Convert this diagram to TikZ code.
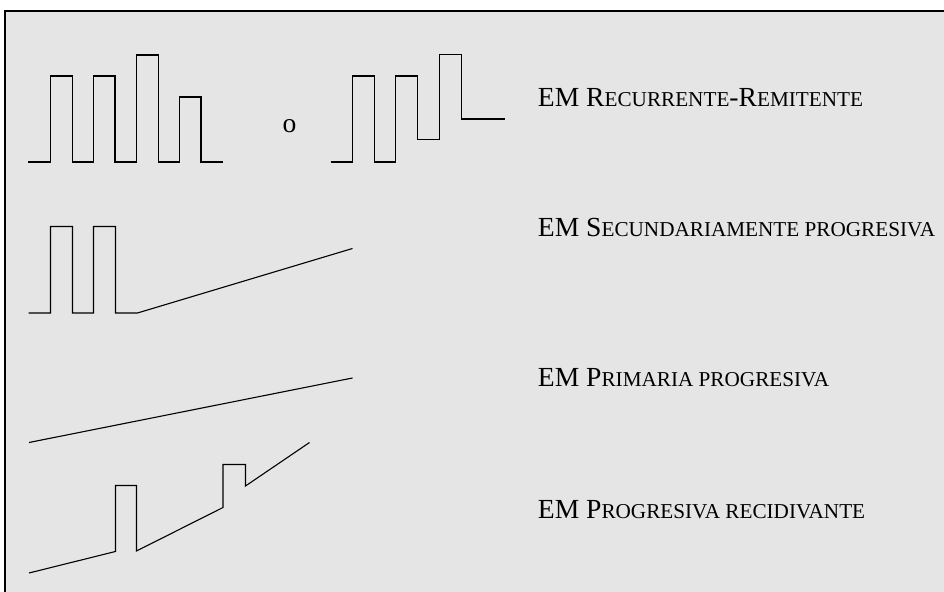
\documentclass[tikz,border=0pt]{standalone}
\usepackage{fontspec}
\setmainfont{Liberation Serif}
\definecolor{panelgray}{HTML}{E5E5E5}
\newcommand{\smcp}[1]{{\fontsize{10.6}{12}\selectfont #1}}

\begin{document}
\begin{tikzpicture}[x=0.5pt,y=-0.5pt,
	every node/.style={anchor=base west,inner sep=0pt,font=\fontsize{13.8}{16}\selectfont},
	wave/.style={line width=0.55pt,line join=miter}]
	\clip (0,0) rectangle (944,592);
	\draw[fill=panelgray,line width=0.9pt] (5,11) rectangle (970,620);
	% recurrente-remitente
	\draw[wave] (28,162) -- (50.5,162) -- (50.5,76) -- (72.5,76) -- (72.5,162) -- (93.5,162) -- (93.5,76) -- (115,76) -- (115,162) -- (136.5,162) -- (136.5,55) -- (158.5,55) -- (158.5,162) -- (179.5,162) -- (179.5,97) -- (201,97) -- (201,162) -- (222.5,162);
	\node[anchor=base] (o) at (289.5,133) {o};
	\draw[wave] (330.5,162) -- (352.5,162) -- (352.5,76) -- (374.5,76) -- (374.5,162) -- (395.5,162) -- (395.5,76) -- (417.5,76) -- (417.5,139.5) -- (439.5,139.5) -- (439.5,54.5) -- (461.5,54.5) -- (461.5,119) -- (504.5,119);
	\node (rr) at (537.5,106.5) {EM R\smcp{ECURRENTE}-R\smcp{EMITENTE}};
	% secundariamente progresiva
	\draw[wave] (28.5,313) -- (50.5,313) -- (50.5,226.5) -- (72.5,226.5) -- (72.5,313) -- (93.5,313) -- (93.5,226.5) -- (115.5,226.5) -- (115.5,313) -- (137.5,313) -- (352.5,248.5);
	\node (sp) at (537.5,236.5) {EM S\smcp{ECUNDARIAMENTE PROGRESIVA}};
	% primaria progresiva
	\draw[wave] (29,442.5) -- (352.5,378);
	\node (pp) at (537.5,386.5) {EM P\smcp{RIMARIA PROGRESIVA}};
	% progresiva recidivante
	\draw[wave] (29,573) -- (115.5,551.5) -- (115.5,485.5) -- (136.5,485.5) -- (136.5,551) -- (223,507.5) -- (223,464.5) -- (245.5,464.5) -- (245.5,486) -- (309.5,442.5);
	\node (pr) at (537.5,519) {EM P\smcp{ROGRESIVA RECIDIVANTE}};
\end{tikzpicture}
\end{document}
